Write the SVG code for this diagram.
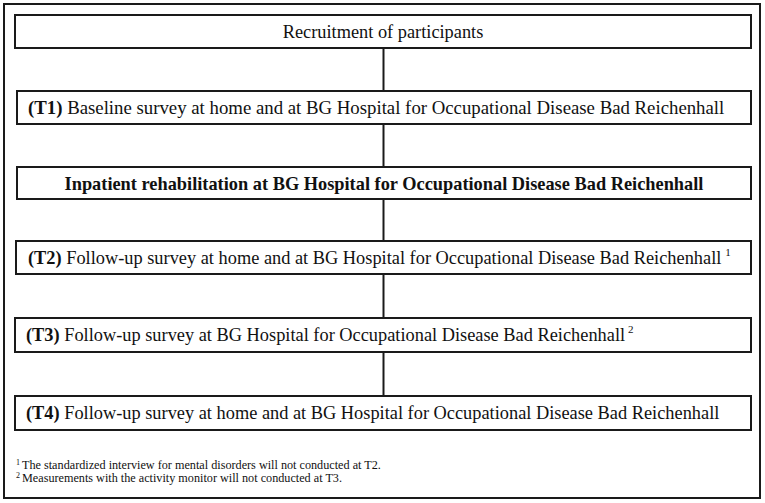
<svg xmlns="http://www.w3.org/2000/svg" width="765" height="503" viewBox="0 0 765 503">
<style>
.box{fill:#fff;stroke:#1a1a1a;stroke-width:2}
.t{font-family:"Liberation Serif","Times New Roman",serif;font-size:18.35px;fill:#111}
.b{font-weight:bold}
.sup{font-family:"Liberation Serif","Times New Roman",serif;font-size:11px;fill:#111}
.fn{font-family:"Liberation Serif","Times New Roman",serif;font-size:12.2px;fill:#111}
.fs{font-family:"Liberation Serif","Times New Roman",serif;font-size:8px;fill:#111}
.c{stroke:#1a1a1a;stroke-width:2;fill:none}
</style>
<rect x="0" y="0" width="765" height="503" fill="#fff"/>
<rect x="4" y="4" width="756" height="494" fill="none" stroke="#1a1a1a" stroke-width="2"/>
<g id="connectors">
<line class="c" x1="383.5" y1="48" x2="383.5" y2="91"/>
<line class="c" x1="383.5" y1="124" x2="383.5" y2="167"/>
<line class="c" x1="383.5" y1="199" x2="383.5" y2="241"/>
<line class="c" x1="383.5" y1="274" x2="383.5" y2="318"/>
<line class="c" x1="383.5" y1="352" x2="383.5" y2="396"/>
</g>
<g id="recruitment">
<rect class="box" x="15" y="15" width="736" height="33"/>
<text class="t" x="383" y="38" text-anchor="middle">Recruitment of participants</text>
</g>
<g id="t1">
<rect class="box" x="17" y="91" width="734" height="33"/>
<text class="t" x="28" y="114" style="font-size:18.8px"><tspan class="b">(T1)</tspan> Baseline survey at home and at BG Hospital for Occupational Disease Bad Reichenhall</text>
</g>
<g id="rehab">
<rect class="box" x="17" y="167" width="734" height="32"/>
<text class="t b" x="384" y="190" text-anchor="middle">Inpatient rehabilitation at BG Hospital for Occupational Disease Bad Reichenhall</text>
</g>
<g id="t2">
<rect class="box" x="16" y="241" width="735" height="33"/>
<text class="t" x="28" y="264"><tspan class="b">(T2)</tspan> Follow-up survey at home and at BG Hospital for Occupational Disease Bad Reichenhall<tspan class="sup" dx="4" dy="-8">1</tspan></text>
</g>
<g id="t3">
<rect class="box" x="15" y="318" width="736" height="34"/>
<text class="t" x="26" y="341"><tspan class="b">(T3)</tspan> Follow-up survey at BG Hospital for Occupational Disease Bad Reichenhall<tspan class="sup" dx="3" dy="-8">2</tspan></text>
</g>
<g id="t4">
<rect class="box" x="15" y="396" width="736" height="34"/>
<text class="t" x="26" y="419"><tspan class="b">(T4)</tspan> Follow-up survey at home and at BG Hospital for Occupational Disease Bad Reichenhall</text>
</g>
<g id="footnotes">
<text class="fs" x="16" y="465">1</text>
<text class="fn" x="22" y="469">The standardized interview for mental disorders will not conducted at T2.</text>
<text class="fs" x="16" y="478">2</text>
<text class="fn" x="22" y="482">Measurements with the activity monitor will not conducted at T3.</text>
</g>
</svg>
